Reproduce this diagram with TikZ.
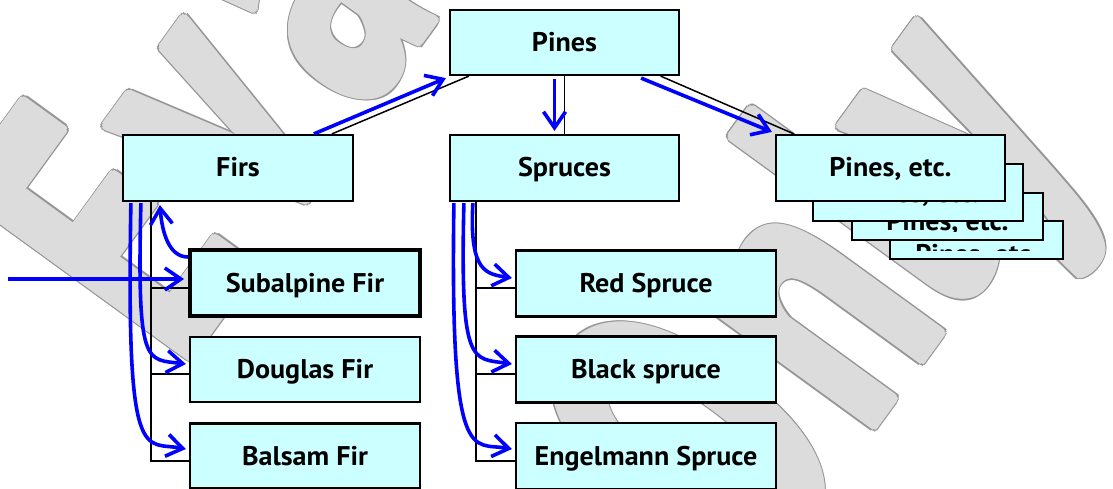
\documentclass[tikz,border=0pt]{standalone}
\usepackage{fontspec}
\setmainfont{PT Sans}
\newfontfamily\boxfamily{PT Sans}[FakeStretch=1.04, BoldFeatures={FakeStretch=1.04}]
\newfontfamily\wmfamily{PT Sans}[FakeStretch=0.65, BoldFeatures={FakeStretch=0.65}]
\usetikzlibrary{arrows.meta,calc}

\definecolor{boxfill}{RGB}{204,255,255}
\definecolor{wmfill}{RGB}{220,220,220}
\definecolor{wmedge}{RGB}{150,150,150}
\definecolor{flow}{RGB}{0,0,255}

\newcommand\boxfont{\boxfamily\fontsize{27}{32}\selectfont\bfseries}
\newcommand\wmfont{\wmfamily\fontsize{408}{408}\selectfont\bfseries}

\tikzset{
  chartbox/.style={draw=black, fill=boxfill, line width=2.2pt,
    minimum width=229pt, minimum height=65pt, inner sep=0pt,
    font=\boxfont, text height=18pt, text depth=0pt},
  % a box of the stack: label sits #2 below the top edge and is cut off
  % nine points above the bottom edge
  stackbox/.style 2 args={chartbox, path picture={
    \clip (path picture bounding box.north west) rectangle
      ($(path picture bounding box.south east)+(0,-9)$);
    \node[font=\boxfont, anchor=base, inner sep=0pt] (#1-label)
      at ($(path picture bounding box.north)+(0,#2)$) {Pines, etc.};}},
  orgline/.style={draw=black, line width=1.5pt},
  flowarrow/.style={draw=flow, line width=3.6pt,
    -{Straight Barb[length=16pt,width=22pt]}},
  wmglyphs/.style={font=\wmfont, rotate=54, inner sep=0pt},
}

% one piece of the large outlined background lettering:
% #1,#2 position on the slanted baseline frame, #3 anchor, #4 text, #5 name.
% A ring of gray copies gives the outline, a slightly smaller ring of
% light copies fattens the strokes, and a last copy fills the middle.
\newcommand\wmglyph[5]{%
  \foreach \a [count=\k] in {0,22.5,...,337.5}{%
    \node[wmglyphs, anchor=#3, text=wmedge, shift={(\a:5.4pt)}] (#5-edge-\k) at (#1,#2) {#4};}
  \foreach \a [count=\k] in {0,22.5,...,337.5}{%
    \node[wmglyphs, anchor=#3, text=wmfill, shift={(\a:4pt)}] (#5-fat-\k) at (#1,#2) {#4};}
  \node[wmglyphs, anchor=#3, text=wmfill] (#5-fill) at (#1,#2) {#4};
}

\begin{document}
\begin{tikzpicture}[x=1pt,y=-1pt]
\useasboundingbox (0,0) rectangle (1113,489);

\begin{scope}
  \clip (0,0) rectangle (1113,489);
  \begin{scope}[rotate=54]
    % first line
    \wmglyph{-124}{364}{base}{E}{wmE}
    \wmglyph{27}{364}{base}{v}{wmv}
    \wmglyph{185}{364}{base}{a}{wma}
    \wmglyph{265}{364}{base west}{luation}{wmrest}
    % second line
    \wmglyph{50}{958}{base}{O}{wmO}
    \wmglyph{226}{958}{base}{n}{wmn}
    \wmglyph{342}{958}{base}{l}{wml}
    \wmglyph{457}{958}{base}{y}{wmy}
  \end{scope}
\end{scope}

% top level
\node[chartbox] (pines) at (564.5,42.5) {Pines};
\node[chartbox, minimum width=230pt, minimum height=66pt] (firs) at (238,168) {Firs};
\node[chartbox, minimum height=66pt] (spruces) at (564.5,168) {Spruces};

% stack of further groups, back to front
\node[stackbox={pe4}{42}, minimum width=173pt, minimum height=38pt] (pe4) at (976.5,240) {};
\node[stackbox={pe3}{37}, minimum width=191pt, minimum height=47pt] (pe3) at (947.5,216.5) {};
\node[stackbox={pe2}{39}, minimum width=210pt, minimum height=57pt] (pe2) at (918,192.5) {};
\node[chartbox, minimum height=66pt] (pe1) at (890.5,168) {Pines, etc.};

% firs
\node[chartbox, minimum width=230pt, minimum height=66pt, line width=4pt] (subalpine) at (305,283) {Subalpine Fir};
\node[chartbox, minimum width=230pt] (douglas) at (305,369.5) {Douglas Fir};
\node[chartbox, minimum width=230pt] (balsam) at (305,456) {Balsam Fir};

% spruces
\node[chartbox, minimum width=260pt, minimum height=66pt] (red) at (646,283.5) {Red Spruce};
\node[chartbox, minimum width=260pt, minimum height=66pt] (blacksp) at (646,369.5) {Black spruce};
\node[chartbox, minimum width=260pt, minimum height=66pt] (engel) at (646,456) {Engelmann Spruce};

% hierarchy lines
\draw[orgline] ($(pines.south west)+(20,0)$) -- ($(firs.north west)+(210,0)$);
\draw[orgline] (pines.south) -- (spruces.north);
\draw[orgline] ($(pines.south east)+(-19.5,0)$) -- ($(pe1.north west)+(19,0)$);

\coordinate (firtrunk) at ($(firs.south west)+(29,0)$);
\draw[orgline] (firtrunk) |- ($(balsam.west)+(0,5)$);
\draw[orgline] (firtrunk) |- ($(subalpine.west)+(0,5)$);
\draw[orgline] (firtrunk) |- ($(douglas.west)+(0,4.5)$);

\coordinate (sprucetrunk) at ($(spruces.south west)+(27,0)$);
\draw[orgline] (sprucetrunk) |- ($(engel.west)+(0,5)$);
\draw[orgline] (sprucetrunk) |- ($(red.west)+(0,4.5)$);
\draw[orgline] (sprucetrunk) |- ($(blacksp.west)+(0,4.5)$);

% flow arrows
\draw[flowarrow] ($(firs.north west)+(192,0)$) -- ($(pines.south west)+(-3,2)$);
\draw[flowarrow] ($(pines.south)+(-10,2.5)$) -- ($(spruces.north)+(-10,-3)$);
\draw[flowarrow] ($(pines.south east)+(-39,2)$) -- ($(pe1.north west)+(-3,-2)$);

\coordinate (entry) at (8,279);
\draw[flowarrow] (entry) -- ($(subalpine.west)+(-4,-4)$);
\draw[flowarrow] ($(subalpine.north west)+(0,9)$) .. controls +(-20,0) and +(2,25) .. ($(firs.south west)+(38,3)$);
\draw[flowarrow] ($(firs.south west)+(19,1)$) .. controls +(-4,165) and +(-40,-5) .. ($(douglas.west)+(-3,-5.5)$);
\draw[flowarrow] ($(firs.south west)+(9,1)$) .. controls +(-5,268) and +(-42,-8) .. ($(balsam.west)+(-3,-7)$);

\draw[flowarrow] ($(spruces.south west)+(24,1)$) .. controls +(-4,70) and +(-25,-4) .. ($(red.west)+(-3,-5.5)$);
\draw[flowarrow] ($(spruces.south west)+(15,1)$) .. controls +(-4,165) and +(-40,-6) .. ($(blacksp.west)+(-3,-5.5)$);
\draw[flowarrow] ($(spruces.south west)+(5,1)$) .. controls +(-4,268) and +(-40,-7) .. ($(engel.west)+(-3,-7)$);
\end{tikzpicture}
\end{document}
